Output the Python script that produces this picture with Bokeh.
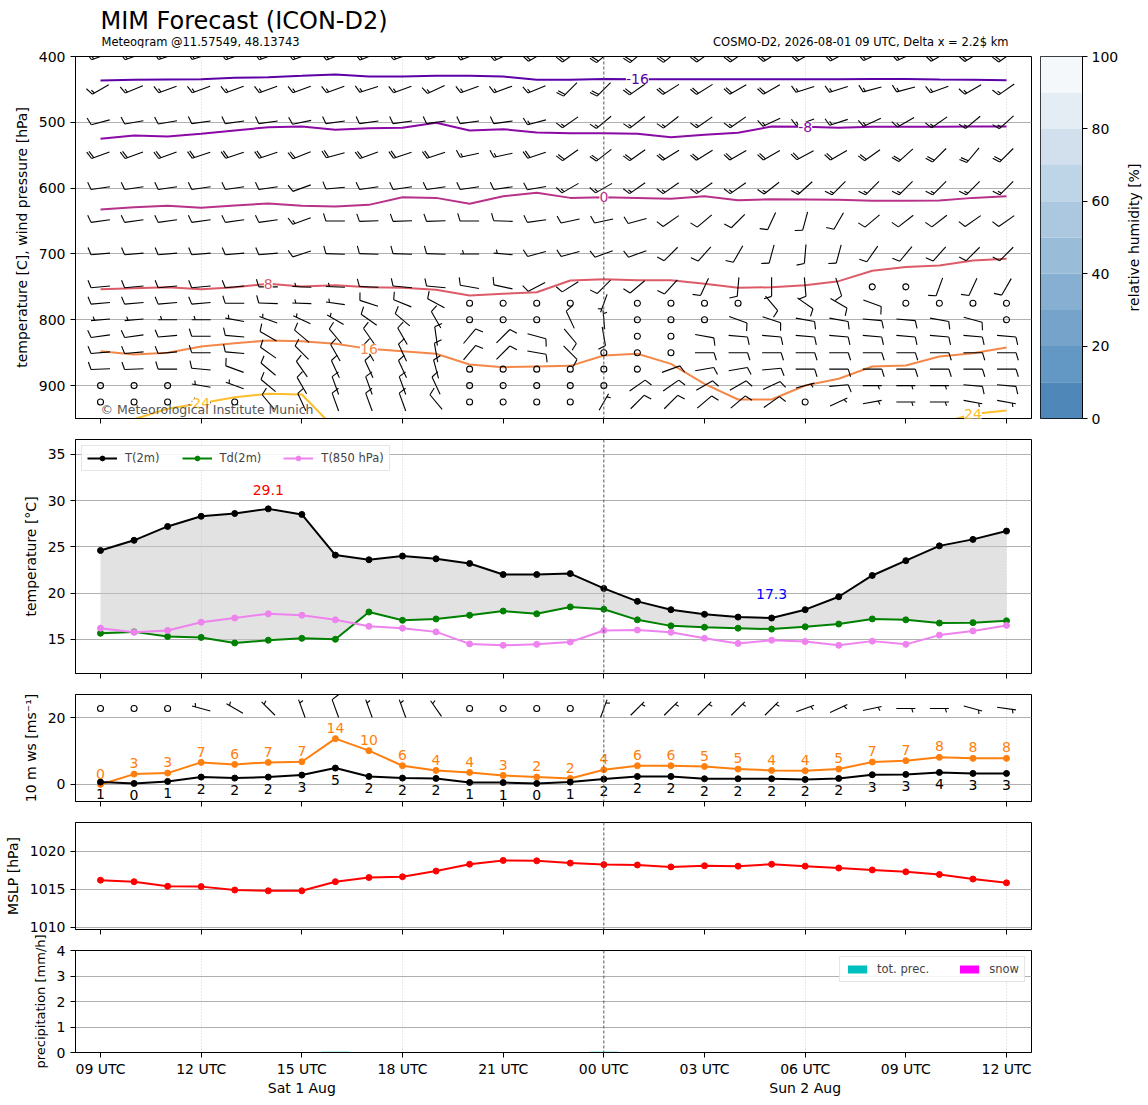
import math
import numpy as np
import pandas as pd
from bokeh.plotting import figure
from bokeh.layouts import column, row
from bokeh.models import Range1d, FixedTicker, ColumnDataSource, LabelSet, Label, Span
from bokeh.core.properties import value
from bokeh.embed import file_html
from bokeh.resources import INLINE

FONT = "DejaVu Sans"
nan = float("nan")

# ---------------- time axis ----------------
times = pd.date_range("2026-08-01 09:00", periods=28, freq="h")
hours = ((times - times[0]) / pd.Timedelta(hours=1)).to_numpy().astype(float)
tick_hours = [0, 3, 6, 9, 12, 15, 18, 21, 24, 27]
tick_labels = ["09 UTC", "12 UTC", "15 UTC\nSat 1 Aug", "18 UTC", "21 UTC",
               "00 UTC", "03 UTC", "06 UTC\nSun 2 Aug", "09 UTC", "12 UTC"]

# ---------------- surface series ----------------
t2m = [24.6, 25.7, 27.2, 28.3, 28.6, 29.1, 28.5, 24.1, 23.6, 24.0, 23.7, 23.2, 22.0, 22.0,
       22.1, 20.5, 19.1, 18.2, 17.7, 17.4, 17.3, 18.2, 19.6, 21.9, 23.5, 25.1, 25.8, 26.7]
td2m = [15.65, 15.8, 15.3, 15.2, 14.6, 14.9, 15.1, 15.0, 17.95, 17.05, 17.2, 17.6, 18.05, 17.75,
        18.5, 18.25, 17.1, 16.45, 16.3, 16.2, 16.1, 16.35, 16.65, 17.2, 17.1, 16.75, 16.8, 17.0]
t850 = [16.2, 15.75, 15.95, 16.85, 17.3, 17.75, 17.6, 17.1, 16.4, 16.2, 15.8, 14.5, 14.35, 14.45,
        14.7, 15.95, 16.0, 15.75, 15.1, 14.55, 14.9, 14.75, 14.35, 14.8, 14.45, 15.45, 15.9, 16.5]
ws10 = [0.7, 0.3, 0.9, 2.2, 1.9, 2.2, 2.8, 4.9, 2.4, 1.9, 1.8, 0.6, 0.55, 0.3,
        0.7, 1.6, 2.4, 2.4, 1.7, 1.7, 1.7, 1.5, 1.8, 2.9, 3.0, 3.6, 3.3, 3.3]
gust10 = [0.0, 3.1, 3.4, 6.6, 6.0, 6.6, 6.8, 13.7, 10.1, 5.6, 4.2, 3.6, 2.7, 2.2,
          1.8, 4.4, 5.6, 5.6, 5.4, 4.6, 4.2, 4.1, 4.6, 6.7, 7.1, 8.1, 7.8, 7.8]
wdir10 = [0, 0, 0, 285, 300, 315, 340, 340, 340, 340, 325, 0, 0, 0,
          0, 20, 45, 45, 45, 45, 45, 70, 65, 78, 90, 90, 105, 98]
mslp = [1016.2, 1016.0, 1015.4, 1015.35, 1014.9, 1014.8, 1014.8, 1016.0, 1016.55, 1016.65,
        1017.4, 1018.3, 1018.8, 1018.75, 1018.45, 1018.25, 1018.2, 1017.95, 1018.1, 1018.05,
        1018.3, 1018.05, 1017.8, 1017.55, 1017.3, 1016.95, 1016.35, 1015.85]
prec_tot = [0, 0, 0, 0, 0, 0, 0, 0.03, 0, 0, 0, 0, 0, 0,
            0, 0.03, 0, 0, 0, 0, 0, 0, 0, 0, 0, 0, 0, 0]
prec_snow = [0, 0, 0, 0, 0, 0, 0, 0, 0, 0, 0, 0, 0, 0,
             0, 0, 0, 0, 0, 0, 0, 0, 0, 0, 0, 0, 0, 0]

# ---------------- isotherm pressures [hPa] ----------------
iso_m16 = [436.5, 435.5, 435.0, 434.5, 432.4, 431.4, 429.4, 427.3, 430.4, 430.4, 429.4, 429.4, 430.4, 435.5,
           435.5, 434.0, 434.5, 434.5, 434.5, 434.5, 434.5, 434.5, 434.5, 434.0, 434.0, 435.0, 435.5, 436.0]
iso_m8 = [525.1, 520.0, 521.5, 517.5, 512.4, 507.4, 506.4, 511.4, 508.9, 508.4, 500.8, 512.4, 510.4, 515.5,
          516.5, 516.5, 517.5, 522.6, 519.0, 516.0, 506.4, 506.9, 508.4, 506.9, 506.9, 506.6, 506.4, 506.4]
iso_0 = [632.5, 628.9, 626.9, 629.9, 626.4, 623.3, 626.9, 627.9, 625.4, 613.8, 614.8, 623.8, 612.2, 607.1,
         614.8, 614.0, 614.8, 616.3, 612.2, 618.3, 616.8, 617.3, 617.8, 619.3, 619.3, 618.8, 614.8, 612.2]
iso_8 = [753.5, 752.0, 750.5, 753.5, 750.5, 745.4, 749.4, 747.4, 750.5, 751.5, 754.5, 763.1, 760.6, 758.1,
         740.3, 738.3, 739.8, 739.8, 745.4, 751.5, 750.5, 747.4, 741.3, 725.6, 720.0, 717.5, 710.0, 707.4]
iso_16 = [847.7, 852.7, 850.2, 840.6, 835.5, 831.5, 832.5, 836.6, 844.2, 847.7, 851.7, 868.0, 872.0, 871.0,
          870.0, 854.3, 851.7, 867.0, 897.3, 921.1, 921.1, 899.9, 889.7, 871.0, 869.5, 855.8, 850.7, 842.1]
iso_24 = [nan, 951.0, 935.3, 926.7, 917.6, 912.5, 913.5, 966.0, nan, nan, nan, nan, nan, nan,
          nan, nan, nan, nan, nan, nan, nan, nan, nan, nan, nan, 958.0, 943.0, 938.0]
iso_labels = ["-16", "-8", "0", "8", "16", "24"]
iso_colors = ["#5c01a6", "#8b0aa5", "#b83289", "#db5c68", "#f48849", "#febd2a"]
iso_label_hours = [[16], [21], [15], [5], [8], [3, 26]]

# ---------------- upper-air wind (direction from [deg], speed [kn]) ----------------
wdir_400 = [250, 250, 252, 252, 250, 250, 250, 248, 248, 250, 250, 248, 245, 240, 235, 230, 230, 232, 235, 235, 238, 240, 242, 245, 245, 240, 238, 235]
wspd_400 = [18, 18, 20, 20, 20, 20, 20, 20, 20, 20, 20, 20, 22, 22, 22, 22, 22, 20, 20, 20, 20, 20, 20, 18, 18, 18, 18, 18]
wdir_450 = [240, 248, 250, 250, 250, 250, 250, 250, 252, 250, 245, 250, 250, 248, 225, 225, 235, 238, 238, 240, 240, 252, 252, 255, 255, 250, 240, 235]
wspd_450 = [17, 16, 16, 16, 16, 16, 16, 16, 16, 16, 17, 16, 16, 16, 18, 18, 18, 18, 18, 18, 18, 16, 16, 16, 16, 16, 16, 16]
wdir_500 = [255, 260, 260, 262, 262, 262, 258, 262, 262, 262, 262, 262, 262, 255, 235, 230, 232, 232, 235, 235, 245, 250, 252, 245, 240, 235, 230, 228]
wspd_500 = [12, 12, 12, 12, 12, 12, 12, 12, 12, 12, 12, 12, 12, 14, 16, 16, 16, 16, 16, 16, 16, 14, 14, 16, 16, 16, 16, 16]
wdir_550 = [250, 250, 250, 252, 252, 252, 248, 255, 250, 252, 252, 258, 258, 252, 235, 232, 235, 238, 238, 240, 240, 242, 240, 235, 228, 225, 220, 225]
wspd_550 = [18, 18, 18, 18, 18, 18, 22, 18, 18, 18, 18, 16, 16, 18, 18, 18, 18, 18, 18, 18, 18, 18, 18, 18, 20, 20, 20, 20]
wdir_600 = [262, 262, 262, 262, 262, 262, 250, 265, 262, 262, 262, 262, 262, 260, 240, 240, 235, 235, 235, 235, 232, 228, 225, 225, 225, 225, 225, 225]
wspd_600 = [10, 10, 10, 10, 10, 10, 12, 10, 10, 10, 10, 12, 12, 12, 14, 14, 14, 14, 14, 14, 14, 14, 14, 14, 14, 14, 14, 14]
wdir_650 = [262, 262, 262, 262, 262, 262, 250, 270, 268, 268, 268, 270, 272, 262, 258, 258, 255, 235, 230, 225, 205, 195, 210, 230, 232, 232, 235, 235]
wspd_650 = [12, 12, 12, 12, 12, 12, 14, 11, 11, 11, 11, 11, 9, 9, 9, 9, 9, 10, 10, 10, 10, 10, 10, 11, 11, 11, 11, 11]
wdir_700 = [265, 265, 265, 265, 265, 265, 252, 272, 272, 272, 272, 270, 275, 255, 255, 250, 250, 225, 222, 210, 195, 185, 195, 215, 220, 222, 225, 225]
wspd_700 = [10, 10, 10, 10, 10, 10, 10, 10, 10, 10, 9, 5, 5, 8, 9, 9, 9, 9, 9, 9, 9, 9, 9, 10, 10, 10, 10, 10]
wdir_750 = [265, 265, 265, 265, 265, 270, 272, 272, 272, 275, 275, 280, 282, 242, 238, 225, 230, 222, 205, 185, 180, 175, 162, 180, 180, 200, 205, 210]
wspd_750 = [10, 10, 10, 10, 10, 10, 5, 5, 10, 10, 8, 8, 8, 10, 10, 10, 10, 10, 10, 10, 10, 10, 10, 1, 1, 8, 8, 8]
wdir_775 = [265, 265, 265, 265, 270, 272, 272, 278, 288, 292, 298, 0, 0, 0, 0, 200, 0, 0, 0, 0, 140, 125, 120, 110, 0, 0, 0, 0]
wspd_775 = [12, 12, 12, 12, 12, 10, 5, 5, 8, 8, 8, 1, 1, 1, 1, 5, 1, 1, 1, 1, 8, 8, 8, 8, 1, 1, 1, 1]
wdir_800 = [265, 265, 270, 270, 280, 290, 295, 300, 305, 310, 330, 0, 0, 0, 335, 355, 0, 0, 0, 110, 108, 100, 100, 95, 95, 100, 105, 0]
wspd_800 = [5, 5, 5, 4, 4, 5, 5, 5, 8, 8, 10, 1, 1, 1, 8, 5, 1, 1, 1, 8, 8, 8, 8, 8, 8, 8, 8, 1]
wdir_825 = [262, 262, 265, 270, 275, 300, 310, 320, 325, 330, 352, 40, 45, 105, 140, 170, 0, 0, 100, 95, 95, 95, 95, 95, 95, 95, 95, 95]
wspd_825 = [10, 10, 10, 10, 10, 10, 10, 10, 10, 10, 10, 10, 10, 10, 10, 8, 1, 1, 10, 10, 10, 10, 10, 10, 10, 10, 10, 10]
wdir_850 = [265, 265, 265, 270, 275, 305, 315, 330, 330, 335, 350, 40, 45, 100, 135, 0, 0, 0, 90, 90, 90, 90, 90, 90, 90, 90, 90, 90]
wspd_850 = [10, 10, 10, 10, 10, 10, 10, 10, 10, 10, 10, 10, 10, 10, 10, 1, 1, 1, 10, 10, 10, 10, 10, 10, 10, 10, 10, 10]
wdir_875 = [268, 268, 270, 275, 290, 310, 325, 335, 335, 335, 345, 0, 0, 0, 0, 0, 0, 70, 80, 80, 85, 90, 90, 90, 90, 90, 90, 90]
wspd_875 = [10, 10, 10, 10, 10, 10, 10, 10, 10, 10, 10, 1, 1, 1, 1, 1, 1, 8, 10, 10, 10, 10, 10, 10, 10, 10, 10, 10]
wdir_900 = [0, 0, 0, 280, 290, 310, 330, 340, 340, 340, 335, 0, 0, 0, 0, 0, 55, 55, 60, 60, 65, 75, 85, 90, 90, 90, 95, 95]
wspd_900 = [1, 1, 1, 5, 5, 10, 10, 12, 10, 10, 10, 1, 1, 1, 1, 1, 10, 10, 10, 10, 10, 5, 8, 5, 4, 4, 8, 8]
wdir_925 = [0, 0, 0, 275, 0, 320, 335, 340, 340, 340, 320, 0, 0, 0, 0, 30, 45, 45, 50, 50, 55, 0, 65, 80, 90, 90, 100, 100]
wspd_925 = [1, 1, 1, 5, 1, 10, 10, 12, 10, 10, 10, 1, 1, 1, 1, 5, 8, 8, 8, 8, 8, 1, 5, 5, 5, 5, 5, 5]

wind_profile = [
    (400, wdir_400, wspd_400), (450, wdir_450, wspd_450), (500, wdir_500, wspd_500),
    (550, wdir_550, wspd_550), (600, wdir_600, wspd_600), (650, wdir_650, wspd_650),
    (700, wdir_700, wspd_700), (750, wdir_750, wspd_750), (775, wdir_775, wspd_775),
    (800, wdir_800, wspd_800), (825, wdir_825, wspd_825), (850, wdir_850, wspd_850),
    (875, wdir_875, wspd_875), (900, wdir_900, wspd_900), (925, wdir_925, wspd_925),
]

# relative humidity colour scale
rh_bounds = [0, 10, 20, 30, 40, 50, 60, 70, 80, 90, 100]
rh_colors = ["#4f87b9", "#6398c4", "#75a3ca", "#87afd2", "#99bcd9",
             "#abc8e0", "#bed4e7", "#d2e0ed", "#e4ecf4", "#f4f8fb"]

# ---------------- layout constants ----------------
W_TOTAL = 1146
LEFT = 75
RIGHT = 115
FRAME_W = W_TOTAL - LEFT - RIGHT
X0, X1 = -0.745, 27.745
xr = Range1d(X0, X1)
grid_hours = [h for h in tick_hours if times[int(h)].hour in (6, 12, 18)]
midnight_hours = [h for h in tick_hours if times[int(h)].hour == 0]


def mkfig(frame_h, top, bottom, y_range, width=W_TOTAL, right=RIGHT):
    return figure(width=width, height=top + frame_h + bottom, x_range=xr, y_range=y_range,
                  min_border_left=LEFT, min_border_right=right, min_border_top=top,
                  min_border_bottom=bottom, toolbar_location=None, output_backend="svg")


def style(p, yticks, ylabel, show_x=False, ylabel_size="14px"):
    p.outline_line_color = "black"
    p.outline_line_width = 1
    p.outline_line_alpha = 1
    p.background_fill_color = "white"
    for ax in p.axis:
        ax.axis_line_color = "black"
        ax.major_tick_line_color = "black"
        ax.major_tick_out = 5
        ax.major_tick_in = 0
        ax.minor_tick_out = 0
        ax.minor_tick_in = 0
        ax.major_label_text_font = FONT
        ax.major_label_text_font_size = "14px"
        ax.major_label_text_color = "black"
        ax.axis_label_text_font = FONT
        ax.axis_label_text_font_size = ylabel_size
        ax.axis_label_text_font_style = "normal"
        ax.axis_label_text_color = "black"
    p.xaxis.ticker = FixedTicker(ticks=tick_hours, minor_ticks=[])
    if show_x:
        p.xaxis.major_label_overrides = dict(zip(tick_hours, tick_labels))
        p.xaxis.major_label_standoff = 3
    else:
        p.xaxis.major_label_overrides = {h: "" for h in tick_hours}
        p.xaxis.major_label_text_font_size = "1px"
        p.xaxis.major_label_standoff = 0
    p.yaxis.ticker = FixedTicker(ticks=yticks, minor_ticks=[])
    p.yaxis.axis_label = ylabel
    p.yaxis.axis_label_standoff = 6
    p.ygrid.ticker = FixedTicker(ticks=yticks)
    p.ygrid.grid_line_color = "#b0b0b0"
    p.ygrid.grid_line_width = 1
    p.xgrid.ticker = FixedTicker(ticks=grid_hours)
    p.xgrid.grid_line_color = "#c8c8c8"
    p.xgrid.grid_line_width = 0.8
    p.xgrid.grid_line_dash = "1 2"
    for m in midnight_hours:
        p.add_layout(Span(location=m, dimension="height", line_color="#555555",
                          line_width=1, line_dash="3 2"))


def barbs(xc_list, yc_list, dirs, spds, kx, ky, L=19.0):
    xs, ys, fx, fy, cx, cy = [], [], [], [], [], []
    H, Wd, S = 0.4 * L, 0.25 * L, 0.125 * L
    for xc, yc, wd, sp in zip(xc_list, yc_list, dirs, spds):
        th = math.radians(wd)
        dx, dy = math.sin(th), math.cos(th)
        sx, sy = math.cos(th), -math.sin(th)

        def P(a, b):
            return xc + (a * sx + b * dx) * kx, yc + (a * sy + b * dy) * ky

        mag = 5 * round(sp / 5)
        nf = int(mag // 50)
        mag -= nf * 50
        nb = int(mag // 10)
        mag -= nb * 10
        half = mag >= 5
        if nf == 0 and nb == 0 and not half:
            cx.append(xc)
            cy.append(yc)
            continue
        segs = [[P(0, -L / 2), P(0, L / 2)]]
        off = L / 2
        for _ in range(nf):
            tri = [P(0, off), P(H, off - Wd / 2), P(0, off - Wd)]
            fx.append([q[0] for q in tri])
            fy.append([q[1] for q in tri])
            off -= Wd + S
        for _ in range(nb):
            segs.append([P(0, off), P(H, off + Wd / 2)])
            off -= S
        if half:
            if off == L / 2:
                off -= 1.5 * S
            segs.append([P(0, off), P(H / 2, off + Wd / 4)])
        for sgm in segs:
            xs.append([q[0] for q in sgm])
            ys.append([q[1] for q in sgm])
    return xs, ys, fx, fy, cx, cy


def draw_barbs(p, res):
    xs, ys, fx, fy, cx, cy = res
    p.multi_line(xs, ys, line_color="black", line_width=1.1)
    if fx:
        p.patches(fx, fy, fill_color="black", line_color="black")
    p.scatter(cx, cy, marker="circle", size=6, fill_color=None, line_color="black", line_width=1.1)


# ---------------- header (titles) ----------------
ph = figure(width=W_TOTAL, height=48, x_range=xr, y_range=Range1d(48, 0),
            min_border_left=LEFT, min_border_right=RIGHT, min_border_top=0, min_border_bottom=0,
            toolbar_location=None, output_backend="svg",
            x_axis_location=None, y_axis_location=None)
ph.outline_line_color = None
ph.grid.visible = False
ph.text(x=[hours[0]], y=[20], text=["MIM Forecast (ICON-D2)"], text_font=value(FONT),
        text_font_size="24px", text_baseline="middle", text_align="left", text_color="black")
ph.text(x=[hours[0]], y=[41], x_offset=1, text=["Meteogram @11.57549, 48.13743"], text_font=value(FONT),
        text_font_size="11.5px", text_baseline="middle", text_align="left", text_color="black")
ph.text(x=[hours[-1]], y=[41], x_offset=2, text=["COSMO-D2, 2026-08-01 09 UTC, Delta x = 2.2$ km"],
        text_font=value(FONT), text_font_size="11.5px", text_baseline="middle", text_align="right",
        text_color="black")

# ---------------- panel 1: cross section ----------------
TOP_H = 362
P1_W = LEFT + FRAME_W + 1
p1 = mkfig(TOP_H, 8, 10, Range1d(950, 400), width=P1_W, right=1)
style(p1, [400, 500, 600, 700, 800, 900], "temperature [C], wind pressure [hPa]")
for iso, col in zip([iso_m16, iso_m8, iso_0, iso_8, iso_16, iso_24], iso_colors):
    p1.line(hours, iso, line_color=col, line_width=2)
lx, ly, lt, lc = [], [], [], []
for iso, lab, col, hs in zip([iso_m16, iso_m8, iso_0, iso_8, iso_16, iso_24], iso_labels, iso_colors, iso_label_hours):
    for h in hs:
        lx.append(hours[h]); ly.append(iso[h]); lt.append(lab); lc.append(col)
p1.add_layout(LabelSet(x="x", y="y", text="text", text_color="color",
                       source=ColumnDataSource(dict(x=lx, y=ly, text=lt, color=lc)),
                       text_align="center", text_baseline="middle", text_font=value(FONT),
                       text_font_size="14px", background_fill_color="white"))
kx = (X1 - X0) / FRAME_W
ky1 = (400 - 950) / TOP_H
bx, by, bd, bs = [], [], [], []
for lev, dirs, spds in wind_profile:
    for i, h in enumerate(hours):
        bx.append(h); by.append(lev); bd.append(dirs[i]); bs.append(spds[i])
draw_barbs(p1, barbs(bx, by, bd, bs, kx, ky1))
p1.add_layout(Label(x=hours[0], y=947, text="\u00a9 Meteorological Institute Munich",
                    text_font=FONT, text_font_size="12.5px", text_color="#555555",
                    text_baseline="bottom", text_align="left"))

# colour bar (ticks on a real right axis)
CB_W = 43
CB_RIGHT = 38
pcb_w = 8 + CB_W + CB_RIGHT
pcb = figure(width=pcb_w, height=8 + TOP_H + 10,
             x_range=Range1d(0, 1), y_range=Range1d(0, 100),
             min_border_left=8, min_border_right=CB_RIGHT, min_border_top=8, min_border_bottom=10,
             toolbar_location=None, output_backend="svg", x_axis_location=None, y_axis_location="right")
pcb.quad(left=0, right=1, bottom=rh_bounds[:-1], top=rh_bounds[1:], fill_color=rh_colors, line_color=None)
pcb.grid.visible = False
pcb.outline_line_color = "black"
pcb.outline_line_alpha = 1
ya = pcb.yaxis[0]
ya.ticker = FixedTicker(ticks=[0, 20, 40, 60, 80, 100], minor_ticks=[])
ya.axis_line_color = "black"
ya.major_tick_out = 5
ya.major_tick_in = 0
ya.major_label_standoff = 4
ya.major_label_text_font = FONT
ya.major_label_text_font_size = "14px"
ya.major_label_text_color = "black"

# colour-bar title, reading bottom-to-top
lab_w = W_TOTAL - P1_W - pcb_w
plab = figure(width=lab_w, height=8 + TOP_H + 10, x_range=Range1d(0, 1), y_range=Range1d(0, 1),
              min_border=0, toolbar_location=None, output_backend="svg",
              x_axis_location=None, y_axis_location=None)
plab.outline_line_color = None
plab.grid.visible = False
plab.text(x=[0.5], y=[0.5], text=["relative humidity [%]"], angle=math.pi / 2,
          text_font=value(FONT), text_font_size="14px", text_color="black",
          text_align="center", text_baseline="middle")

# ---------------- panel 2: temperatures ----------------
p2 = mkfig(234, 11, 10, Range1d(11.3, 36.6))
style(p2, [15, 20, 25, 30, 35], "temperature [\u00b0C]")
p2.varea(x=hours, y1=td2m, y2=t2m, fill_color="#c6c6c6", fill_alpha=0.5)
for ser, col, lab in [(t2m, "black", "T(2m)"), (td2m, "#008000", "Td(2m)"), (t850, "#ee82ee", "T(850 hPa)")]:
    p2.line(hours, ser, line_color=col, line_width=2, legend_label=lab)
    p2.scatter(hours, ser, marker="circle", size=6, fill_color=col, line_color=col, legend_label=lab)
imax = int(np.argmax(t2m))
imin = int(np.argmin(t2m))
p2.text(x=[hours[imax]], y=[t2m[imax] + 2.0], text=[f"{t2m[imax]:.1f}"], text_color="red",
        text_align="center", text_baseline="middle", text_font=value(FONT), text_font_size="14px")
p2.text(x=[hours[imin]], y=[t2m[imin] + 2.6], text=[f"{t2m[imin]:.1f}"], text_color="blue",
        text_align="center", text_baseline="middle", text_font=value(FONT), text_font_size="14px")
lg = p2.legend[0]
lg.location = "top_left"
lg.orientation = "horizontal"
lg.label_text_font = FONT
lg.label_text_font_size = "11.5px"
lg.glyph_width = 30
lg.glyph_height = 12
lg.spacing = 22
lg.padding = 5
lg.margin = 6
lg.label_standoff = 8
lg.border_line_color = "#cccccc"
lg.background_fill_alpha = 0.85

# ---------------- panel 3: 10 m wind ----------------
p3_range = (-5.1, 26.9)
p3 = mkfig(107, 11, 10, Range1d(*p3_range))
style(p3, [0, 20], "10 m ws [ms\u207b\u00b9]")
p3.line(hours, gust10, line_color="#ff7f0e", line_width=2)
p3.scatter(hours, gust10, marker="circle", size=6, fill_color="#ff7f0e", line_color="#ff7f0e")
p3.line(hours, ws10, line_color="black", line_width=2)
p3.scatter(hours, ws10, marker="circle", size=6, fill_color="black", line_color="black")
p3.text(x=hours, y=np.array(gust10) + 3.25, text=[f"{v:.0f}" for v in gust10], text_color="#ff7f0e",
        text_align="center", text_baseline="middle", text_font=value(FONT), text_font_size="14px")
p3.text(x=hours, y=np.array(ws10) - 3.6, text=[f"{v:.0f}" for v in ws10], text_color="black",
        text_align="center", text_baseline="middle", text_font=value(FONT), text_font_size="14px")
ky3 = (p3_range[1] - p3_range[0]) / 107
barb_row_10m = 22.7
draw_barbs(p3, barbs(hours, [barb_row_10m] * len(hours), wdir10,
                     [v * 1.944 for v in ws10], kx, ky3))

# ---------------- panel 4: MSLP ----------------
p4 = mkfig(107, 11, 6, Range1d(1009.7, 1023.8))
style(p4, [1010, 1015, 1020], "MSLP [hPa]")
p4.line(hours, mslp, line_color="#ff0000", line_width=2)
p4.scatter(hours, mslp, marker="circle", size=6, fill_color="#ff0000", line_color="#ff0000")

# ---------------- panel 5: precipitation ----------------
p5 = mkfig(107, 15, 41, Range1d(0, 4))
style(p5, [0, 1, 2, 3, 4], "precipitation [mm/h]", show_x=True, ylabel_size="13px")
p5.vbar(x=hours, top=prec_tot, width=0.85, fill_color="#00bfbf", line_color=None, legend_label="tot. prec.")
p5.vbar(x=hours, top=prec_snow, width=0.85, fill_color="#ff00ff", line_color=None, legend_label="snow")
lg5 = p5.legend[0]
lg5.location = "top_right"
lg5.orientation = "horizontal"
lg5.label_text_font = FONT
lg5.label_text_font_size = "11.5px"
lg5.glyph_width = 24
lg5.glyph_height = 10
lg5.spacing = 28
lg5.padding = 5
lg5.margin = 6
lg5.label_standoff = 8
lg5.border_line_color = "#cccccc"
lg5.background_fill_alpha = 0.85

layout = column(ph, row(p1, pcb, plab), p2, p3, p4, p5)
open("out.html", "w").write(file_html(layout, INLINE))
